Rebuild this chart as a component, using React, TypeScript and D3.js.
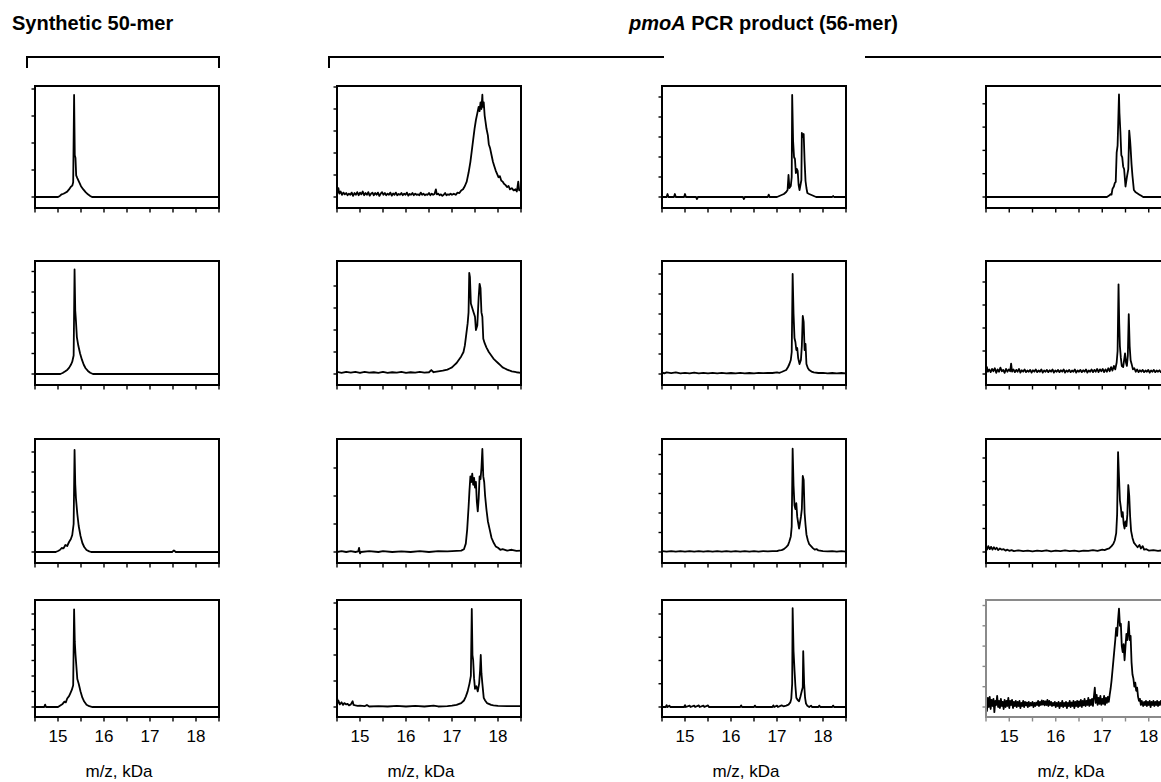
import React from 'react';
import * as d3 from 'd3';

type Pt = number[];

// ---------- axis data ----------
const MZ_DOMAIN = [14.5, 18.5];
const MZ_TICKS = [14.5, 15, 15.5, 16, 16.5, 17, 17.5, 18, 18.5];
const MZ_LABELS = [15, 16, 17, 18];
const X_TITLE = 'm/z, kDa';
const TITLE_LEFT = 'Synthetic 50-mer';
const TITLE_RIGHT_ITALIC = 'pmoA';
const TITLE_RIGHT_REST = ' PCR product (56-mer)';

// ---------- spectra: [m/z (kDa), intensity (tick units)] ----------
const SYN_1: Pt[] = [[14.5,0],[15.0,0],[15.04,0.04],[15.08,0.1],[15.12,0.12],[15.16,0.16],[15.2,0.2],[15.24,0.28],[15.28,0.38],[15.31,0.42],[15.33,0.55],[15.35,3.78],[15.365,1.55],[15.38,1.45],[15.395,0.8],[15.42,0.7],[15.46,0.55],[15.5,0.4],[15.55,0.28],[15.6,0.18],[15.65,0.1],[15.7,0.04],[15.74,0],[18.5,0]];
const SYN_2: Pt[] = [[14.5,0],[15.05,0],[15.1,0.05],[15.15,0.12],[15.2,0.2],[15.24,0.3],[15.28,0.45],[15.31,0.6],[15.34,0.9],[15.36,5.1],[15.375,3.1],[15.39,2.6],[15.41,1.8],[15.44,1.4],[15.48,1.0],[15.52,0.7],[15.56,0.45],[15.6,0.28],[15.65,0.15],[15.7,0.06],[15.76,0],[18.5,0]];
const SYN_3: Pt[] = [[14.5,0],[14.95,0],[15.0,0.05],[15.04,0.1],[15.08,0.2],[15.12,0.18],[15.16,0.35],[15.2,0.3],[15.24,0.5],[15.28,0.65],[15.31,0.85],[15.34,1.4],[15.36,5.1],[15.375,3.4],[15.39,2.7],[15.42,1.9],[15.45,1.3],[15.49,0.8],[15.53,0.45],[15.57,0.25],[15.62,0.1],[15.68,0.03],[15.72,0],[17.48,0],[17.52,0.08],[17.56,0],[18.5,0]];
const SYN_4: Pt[] = [[14.5,0],[14.7,0],[14.72,0.15],[14.74,0],[15.0,0],[15.05,0.1],[15.1,0.2],[15.14,0.35],[15.17,0.3],[15.2,0.55],[15.24,0.7],[15.27,0.9],[15.3,1.1],[15.33,1.4],[15.35,6.3],[15.365,4.2],[15.38,3.4],[15.4,2.6],[15.42,1.8],[15.45,1.5],[15.49,1.0],[15.53,0.6],[15.57,0.35],[15.62,0.15],[15.68,0.05],[15.75,0],[18.5,0]];

const PCR_A1: Pt[] = [[14.5,0.5],[14.51,0.2],[14.53,0.4],[14.55,0.15],[14.58,0.25],[14.61,0.1],[14.64,0.2],[14.67,0.12],[14.7,0.18],[14.73,0.08],[14.76,0.15],[14.79,0.1],[14.82,0.2],[14.85,0.05],[14.88,0.18],[14.91,0.1],[14.94,0.22],[14.97,0.08],[15.0,0.2],[15.03,0.12],[15.06,0.25],[15.09,0.08],[15.12,0.18],[15.15,0.1],[15.18,0.22],[15.21,0.06],[15.24,0.15],[15.27,0.2],[15.3,0.08],[15.33,0.18],[15.36,0.1],[15.39,0.2],[15.42,0.05],[15.45,0.15],[15.48,0.22],[15.51,0.1],[15.54,0.18],[15.57,0.08],[15.6,0.15],[15.63,0.1],[15.66,0.2],[15.69,0.06],[15.72,0.16],[15.75,0.1],[15.78,0.2],[15.81,0.08],[15.84,0.14],[15.87,0.1],[15.9,0.18],[15.93,0.08],[15.96,0.15],[15.99,0.1],[16.02,0.2],[16.05,0.06],[16.08,0.14],[16.11,0.1],[16.14,0.18],[16.17,0.08],[16.2,0.15],[16.23,0.1],[16.26,0.12],[16.29,0.08],[16.32,0.2],[16.35,0.1],[16.38,0.15],[16.41,0.08],[16.44,0.12],[16.47,0.1],[16.5,0.18],[16.53,0.08],[16.56,0.15],[16.59,0.1],[16.62,0.14],[16.65,0.35],[16.67,0.12],[16.7,0.15],[16.73,0.08],[16.76,0.12],[16.79,0.05],[16.82,0.1],[16.85,0.18],[16.88,0.08],[16.91,0.12],[16.94,0.1],[16.97,0.15],[17.0,0.1],[17.04,0.15],[17.08,0.1],[17.12,0.2],[17.16,0.18],[17.2,0.3],[17.24,0.35],[17.28,0.5],[17.32,0.7],[17.36,1.1],[17.4,1.6],[17.43,2.1],[17.46,2.6],[17.49,3.1],[17.52,3.5],[17.55,3.8],[17.58,4.1],[17.6,3.9],[17.62,4.3],[17.64,4.0],[17.66,4.65],[17.67,4.1],[17.69,4.3],[17.71,3.7],[17.73,3.4],[17.75,3.1],[17.78,2.8],[17.8,2.4],[17.83,2.2],[17.86,1.9],[17.89,1.6],[17.92,1.4],[17.95,1.2],[17.98,1.05],[18.01,0.9],[18.04,0.95],[18.07,0.75],[18.1,0.7],[18.13,0.6],[18.16,0.55],[18.2,0.45],[18.23,0.5],[18.26,0.35],[18.3,0.4],[18.34,0.3],[18.38,0.35],[18.41,0.25],[18.44,0.7],[18.46,0.3],[18.5,0.35]];
const PCR_A2: Pt[] = [[14.5,0.1],[14.6,0.05],[14.7,0.1],[14.8,0.06],[14.9,0.1],[15.0,0.05],[15.1,0.1],[15.2,0.06],[15.3,0.08],[15.4,0.05],[15.5,0.1],[15.6,0.05],[15.7,0.08],[15.8,0.06],[15.9,0.1],[16.0,0.05],[16.1,0.08],[16.2,0.06],[16.3,0.1],[16.4,0.06],[16.5,0.08],[16.55,0.18],[16.6,0.08],[16.7,0.12],[16.8,0.15],[16.9,0.2],[16.95,0.25],[17.0,0.3],[17.05,0.4],[17.1,0.5],[17.15,0.65],[17.2,0.8],[17.25,1.0],[17.28,1.3],[17.31,1.8],[17.34,2.3],[17.36,2.8],[17.375,4.6],[17.39,4.4],[17.41,3.2],[17.44,3.0],[17.47,2.8],[17.5,2.6],[17.52,2.0],[17.55,2.2],[17.58,3.5],[17.6,4.1],[17.62,3.9],[17.64,2.8],[17.66,2.6],[17.68,1.6],[17.71,1.4],[17.75,1.2],[17.8,1.0],[17.85,0.85],[17.9,0.7],[17.95,0.6],[18.0,0.5],[18.05,0.4],[18.1,0.3],[18.15,0.25],[18.2,0.2],[18.3,0.12],[18.4,0.08],[18.5,0.05]];
const PCR_A3: Pt[] = [[14.5,0],[14.6,0.03],[14.7,0],[14.8,0.03],[14.9,0],[14.96,0.02],[14.98,0.15],[15.0,-0.05],[15.02,0],[15.2,0.03],[15.4,0],[15.5,0.03],[15.7,0],[15.9,0.02],[16.1,0],[16.3,0.03],[16.5,0],[16.7,0.03],[16.9,0.02],[17.1,0.04],[17.2,0.05],[17.26,0.1],[17.3,0.3],[17.33,0.8],[17.36,1.6],[17.38,2.2],[17.4,2.7],[17.42,2.5],[17.44,2.8],[17.46,2.4],[17.48,2.65],[17.5,2.3],[17.52,2.5],[17.54,1.8],[17.56,1.45],[17.58,1.9],[17.6,2.7],[17.62,2.6],[17.64,3.0],[17.66,3.68],[17.68,2.7],[17.7,2.5],[17.72,2.0],[17.75,1.5],[17.78,1.1],[17.82,0.8],[17.86,0.5],[17.9,0.35],[17.95,0.2],[18.0,0.15],[18.05,0.08],[18.1,0.1],[18.2,0.05],[18.3,0.08],[18.4,0.04],[18.5,0.05]];
const PCR_A4: Pt[] = [[14.5,0.45],[14.51,0.15],[14.53,0.25],[14.56,0.1],[14.6,0.18],[14.63,0.08],[14.66,0.15],[14.7,0.1],[14.73,0.12],[14.76,0.06],[14.8,0.1],[14.84,0.22],[14.86,0.08],[14.9,0.06],[14.95,0.04],[15.0,0.05],[15.1,0.03],[15.15,0.08],[15.2,0.02],[15.4,0.03],[15.6,0.02],[15.8,0.04],[16.0,0.02],[16.2,0.04],[16.4,0.02],[16.6,0.05],[16.7,0.02],[16.9,0.03],[17.0,0.05],[17.1,0.08],[17.2,0.15],[17.26,0.25],[17.3,0.4],[17.34,0.6],[17.38,0.9],[17.41,1.2],[17.43,3.77],[17.445,2.0],[17.46,1.8],[17.48,1.1],[17.5,0.7],[17.53,0.8],[17.56,0.6],[17.59,0.9],[17.61,1.4],[17.625,2.0],[17.64,1.3],[17.66,0.9],[17.69,0.35],[17.72,0.25],[17.76,0.15],[17.8,0.12],[17.85,0.08],[17.9,0.06],[18.0,0.04],[18.2,0.03],[18.5,0.03]];

const PCR_B1: Pt[] = [[14.5,0],[14.6,0],[14.62,0.15],[14.64,0],[14.76,0],[14.78,0.15],[14.8,0],[14.98,0],[15.0,0.15],[15.02,0],[15.24,0],[15.26,-0.1],[15.28,0],[16.26,0],[16.28,-0.1],[16.3,0],[16.8,0],[16.82,0.12],[16.84,0],[17.0,0],[17.05,0.05],[17.1,0.1],[17.15,0.15],[17.2,0.25],[17.23,0.35],[17.25,1.1],[17.27,0.45],[17.3,0.55],[17.32,1.0],[17.33,5.1],[17.35,2.8],[17.37,2.0],[17.39,1.9],[17.41,1.2],[17.43,1.4],[17.45,1.3],[17.47,0.6],[17.49,0.35],[17.51,0.6],[17.53,0.85],[17.54,3.2],[17.56,3.0],[17.58,3.15],[17.6,1.8],[17.62,0.8],[17.64,0.45],[17.66,0.2],[17.7,0.15],[17.75,0.1],[17.8,0.05],[17.85,0],[18.2,0],[18.22,0.05],[18.24,0],[18.5,0]];
const PCR_B2: Pt[] = [[14.5,0.08],[14.55,0.03],[14.6,0.08],[14.7,0.04],[14.8,0.08],[14.9,0.03],[15.0,0.06],[15.1,0.03],[15.2,0.07],[15.3,0.03],[15.4,0.06],[15.5,0.03],[15.6,0.06],[15.7,0.03],[15.8,0.06],[15.9,0.03],[16.0,0.05],[16.1,0.03],[16.2,0.06],[16.3,0.03],[16.4,0.05],[16.5,0.03],[16.6,0.06],[16.7,0.04],[16.8,0.06],[16.9,0.05],[17.0,0.08],[17.05,0.06],[17.1,0.1],[17.15,0.15],[17.2,0.2],[17.24,0.35],[17.27,0.5],[17.3,0.7],[17.32,1.1],[17.34,5.0],[17.36,3.0],[17.38,1.8],[17.4,1.6],[17.42,1.2],[17.44,1.3],[17.46,0.8],[17.49,0.5],[17.52,0.7],[17.54,1.4],[17.56,2.9],[17.58,2.6],[17.6,1.2],[17.62,1.5],[17.64,0.5],[17.67,0.3],[17.7,0.2],[17.75,0.12],[17.8,0.08],[17.9,0.05],[18.0,0.06],[18.1,0.03],[18.2,0.05],[18.3,0.03],[18.4,0.05],[18.5,0.03]];
const PCR_B3: Pt[] = [[14.5,0.05],[14.6,0.02],[14.7,0.05],[14.8,0.02],[14.9,0.04],[15.0,0.02],[15.1,0.05],[15.2,0.02],[15.3,0.04],[15.4,0.02],[15.5,0.05],[15.6,0.02],[15.7,0.04],[15.8,0.02],[15.9,0.05],[16.0,0.02],[16.1,0.04],[16.2,0.02],[16.3,0.05],[16.4,0.02],[16.5,0.04],[16.6,0.02],[16.7,0.05],[16.8,0.03],[16.9,0.05],[17.0,0.04],[17.05,0.08],[17.1,0.1],[17.15,0.15],[17.2,0.25],[17.24,0.35],[17.27,0.55],[17.3,0.8],[17.32,1.3],[17.34,5.3],[17.36,3.4],[17.38,2.4],[17.4,2.2],[17.42,2.5],[17.44,1.8],[17.46,1.5],[17.48,1.2],[17.5,1.5],[17.52,1.8],[17.54,2.2],[17.56,3.9],[17.58,3.7],[17.6,2.0],[17.62,1.4],[17.64,0.9],[17.67,0.6],[17.7,0.4],[17.74,0.3],[17.78,0.2],[17.82,0.12],[17.86,0.15],[17.9,0.08],[18.0,0.05],[18.1,0.03],[18.2,0.05],[18.3,0.02],[18.4,0.04],[18.5,0.02]];
const PCR_B4: Pt[] = [[14.5,0],[14.58,0],[14.6,0.08],[14.62,0],[14.66,0.06],[14.68,0],[14.98,0],[15.0,0.08],[15.02,0],[15.1,0.06],[15.12,0],[15.2,0.06],[15.22,0],[15.3,0.07],[15.32,0],[15.4,0.06],[15.42,0],[15.5,0.07],[15.52,0],[16.2,0],[16.22,0.07],[16.24,0],[16.5,0],[16.52,0.06],[16.54,0],[16.9,0],[16.92,0.07],[16.94,0],[17.0,0.06],[17.02,0],[17.1,0.07],[17.14,0.03],[17.2,0.06],[17.25,0.1],[17.29,0.2],[17.31,0.35],[17.33,1.0],[17.34,4.25],[17.36,2.4],[17.38,1.6],[17.4,0.9],[17.42,0.4],[17.45,0.3],[17.48,0.25],[17.51,0.45],[17.54,0.7],[17.56,0.85],[17.57,2.4],[17.59,1.0],[17.61,0.4],[17.63,0.15],[17.66,0.05],[17.7,0],[17.74,0.06],[17.76,0],[17.9,0],[17.92,0.06],[17.94,0],[18.2,0],[18.22,0.06],[18.24,0],[18.5,0]];

const PCR_C1: Pt[] = [[14.5,0],[17.1,0],[17.14,0.05],[17.18,0.12],[17.2,0.1],[17.22,0.35],[17.25,0.45],[17.27,0.6],[17.29,0.65],[17.31,1.9],[17.33,2.2],[17.36,4.4],[17.37,3.6],[17.39,2.8],[17.41,1.8],[17.43,1.7],[17.45,1.3],[17.47,1.2],[17.5,0.45],[17.53,0.85],[17.56,1.2],[17.58,2.85],[17.6,2.4],[17.61,2.1],[17.63,1.4],[17.65,0.9],[17.68,0.3],[17.72,0.2],[17.76,0.15],[17.8,0.1],[17.84,0.05],[17.88,0],[18.5,0]];
const PCR_C2: Pt[] = [[14.5,0.15],[14.52,0.3],[14.54,0.1],[14.57,0.2],[14.6,0.08],[14.63,0.22],[14.66,0.12],[14.69,0.25],[14.72,0.05],[14.75,0.2],[14.78,0.1],[14.81,0.28],[14.84,0.12],[14.87,0.18],[14.9,0.05],[14.93,0.22],[14.96,0.1],[14.99,0.2],[15.02,0.12],[15.04,0.45],[15.06,0.1],[15.09,0.2],[15.12,0.08],[15.15,0.18],[15.18,0.1],[15.21,0.22],[15.24,0.06],[15.27,0.16],[15.3,0.1],[15.33,0.2],[15.36,0.08],[15.39,0.15],[15.42,0.1],[15.45,0.18],[15.48,0.06],[15.51,0.16],[15.54,0.1],[15.57,0.2],[15.6,0.08],[15.63,0.15],[15.66,0.1],[15.69,0.2],[15.72,0.06],[15.75,0.15],[15.78,0.1],[15.81,0.18],[15.84,0.08],[15.87,0.16],[15.9,0.1],[15.93,0.2],[15.96,0.06],[15.99,0.15],[16.02,0.1],[16.05,0.18],[16.08,0.08],[16.11,0.16],[16.14,0.1],[16.17,0.2],[16.2,0.06],[16.23,0.15],[16.26,0.1],[16.29,0.18],[16.32,0.08],[16.35,0.15],[16.38,0.1],[16.41,0.2],[16.44,0.06],[16.47,0.15],[16.5,0.1],[16.53,0.18],[16.56,0.08],[16.59,0.16],[16.62,0.1],[16.65,0.2],[16.68,0.06],[16.71,0.15],[16.74,0.1],[16.77,0.2],[16.8,0.08],[16.83,0.18],[16.86,0.1],[16.89,0.22],[16.92,0.08],[16.95,0.2],[16.98,0.12],[17.01,0.22],[17.04,0.08],[17.07,0.2],[17.1,0.1],[17.13,0.25],[17.16,0.12],[17.19,0.3],[17.22,0.15],[17.25,0.35],[17.28,0.2],[17.31,0.5],[17.33,1.0],[17.35,3.9],[17.365,2.2],[17.38,1.2],[17.4,0.7],[17.42,0.35],[17.45,0.3],[17.47,0.6],[17.49,0.9],[17.51,0.5],[17.53,0.35],[17.55,0.8],[17.57,2.6],[17.59,1.2],[17.61,0.6],[17.63,0.45],[17.66,0.2],[17.69,0.25],[17.72,0.1],[17.75,0.2],[17.78,0.08],[17.81,0.16],[17.84,0.1],[17.87,0.18],[17.9,0.08],[17.93,0.15],[17.96,0.1],[17.99,0.18],[18.02,0.06],[18.05,0.15],[18.08,0.1],[18.11,0.18],[18.14,0.08],[18.17,0.15],[18.2,0.1],[18.23,0.16],[18.26,0.08],[18.3,0.15],[18.4,0.1],[18.5,0.12]];
const PCR_C3: Pt[] = [[14.5,0.2],[14.52,0.1],[14.55,0.25],[14.58,0.12],[14.61,0.22],[14.64,0.1],[14.67,0.2],[14.7,0.12],[14.73,0.18],[14.76,0.08],[14.8,0.15],[14.84,0.1],[14.88,0.12],[14.92,0.06],[14.96,0.1],[15.0,0.05],[15.05,0.08],[15.1,0.04],[15.2,0.07],[15.3,0.04],[15.4,0.06],[15.5,0.03],[15.6,0.06],[15.7,0.04],[15.8,0.07],[15.9,0.03],[16.0,0.06],[16.1,0.04],[16.2,0.07],[16.3,0.04],[16.4,0.06],[16.5,0.03],[16.6,0.06],[16.7,0.05],[16.8,0.08],[16.9,0.05],[17.0,0.1],[17.05,0.08],[17.1,0.12],[17.15,0.15],[17.2,0.25],[17.24,0.35],[17.27,0.5],[17.3,0.8],[17.32,1.6],[17.34,4.25],[17.36,3.2],[17.38,2.2],[17.4,1.9],[17.42,1.5],[17.44,1.7],[17.46,1.2],[17.48,1.0],[17.5,1.3],[17.52,1.1],[17.54,1.6],[17.56,2.85],[17.58,2.4],[17.6,1.5],[17.62,0.9],[17.65,0.6],[17.68,0.4],[17.72,0.3],[17.76,0.2],[17.8,0.3],[17.83,0.15],[17.87,0.25],[17.9,0.1],[17.95,0.12],[18.0,0.06],[18.1,0.08],[18.2,0.05],[18.3,0.07],[18.4,0.04],[18.5,0.05]];
const PCR_C4: Pt[] = [[14.5,0.1],[14.52,-0.2],[14.54,0.45],[14.56,0.0],[14.58,0.5],[14.6,-0.1],[14.62,0.35],[14.64,0.05],[14.66,0.4],[14.68,-0.25],[14.7,0.3],[14.72,0.1],[14.74,0.55],[14.76,0.0],[14.78,0.3],[14.8,-0.05],[14.82,0.4],[14.84,0.05],[14.86,0.25],[14.88,-0.1],[14.9,0.35],[14.92,0.0],[14.94,0.3],[14.96,0.05],[14.98,0.45],[15.0,-0.05],[15.02,0.3],[15.04,0.1],[15.06,0.35],[15.08,-0.05],[15.1,0.25],[15.12,0.05],[15.14,0.3],[15.16,0.0],[15.18,0.25],[15.2,0.05],[15.22,0.3],[15.24,-0.05],[15.26,0.2],[15.28,0.05],[15.3,0.3],[15.32,0.0],[15.34,0.25],[15.36,0.08],[15.38,0.22],[15.4,0.0],[15.42,0.25],[15.44,0.05],[15.46,0.2],[15.48,0.08],[15.5,0.25],[15.52,0.0],[15.54,0.2],[15.56,0.05],[15.58,0.22],[15.6,0.1],[15.62,0.3],[15.64,0.05],[15.66,0.25],[15.68,0.1],[15.7,0.32],[15.72,0.12],[15.74,0.3],[15.76,0.08],[15.78,0.28],[15.8,0.1],[15.82,0.35],[15.84,0.05],[15.86,0.3],[15.88,0.1],[15.9,0.25],[15.92,0.05],[15.94,0.2],[15.96,0.08],[15.98,0.25],[16.0,0.0],[16.02,0.2],[16.04,0.05],[16.06,0.25],[16.08,-0.05],[16.1,0.2],[16.12,0.05],[16.14,0.3],[16.16,0.0],[16.18,0.2],[16.2,0.05],[16.22,0.25],[16.24,-0.05],[16.26,0.2],[16.28,0.05],[16.3,0.3],[16.32,0.0],[16.34,0.22],[16.36,0.05],[16.38,0.3],[16.4,-0.05],[16.42,0.25],[16.44,0.05],[16.46,0.3],[16.48,0.0],[16.5,0.28],[16.52,0.05],[16.54,0.35],[16.56,0.0],[16.58,0.3],[16.6,0.08],[16.62,0.4],[16.64,0.05],[16.66,0.3],[16.68,0.1],[16.7,0.45],[16.72,0.05],[16.74,0.35],[16.76,0.1],[16.78,0.4],[16.8,0.05],[16.82,0.5],[16.84,0.95],[16.86,0.2],[16.88,0.6],[16.9,0.1],[16.92,0.45],[16.94,0.15],[16.96,0.55],[16.98,0.1],[17.0,0.4],[17.02,0.15],[17.04,0.55],[17.06,0.1],[17.08,0.45],[17.1,0.2],[17.12,0.5],[17.14,0.25],[17.16,0.6],[17.18,0.9],[17.2,1.3],[17.22,1.8],[17.24,2.3],[17.26,2.8],[17.28,3.3],[17.3,3.9],[17.32,3.5],[17.34,4.3],[17.36,4.85],[17.38,4.0],[17.4,4.1],[17.42,3.0],[17.44,2.7],[17.46,3.1],[17.48,2.3],[17.5,3.0],[17.52,3.6],[17.54,3.3],[17.56,3.9],[17.57,4.2],[17.59,3.3],[17.61,3.5],[17.63,2.2],[17.65,1.6],[17.67,1.4],[17.69,1.0],[17.71,1.2],[17.73,0.8],[17.75,0.95],[17.77,0.5],[17.79,0.3],[17.81,0.4],[17.83,0.1],[17.85,0.3],[17.88,0.05],[17.9,0.25],[17.92,0.1],[17.94,0.3],[17.96,0.05],[17.98,0.25],[18.0,0.1],[18.02,0.3],[18.04,0.0],[18.06,0.25],[18.08,0.1],[18.1,0.3],[18.12,0.05],[18.14,0.25],[18.16,0.1],[18.18,0.3],[18.2,0.05],[18.22,0.25],[18.24,0.1],[18.26,0.3],[18.3,0.1]];

// rows x columns of series
const SERIES: Pt[][][] = [
  [SYN_1, PCR_A1, PCR_B1, PCR_C1],
  [SYN_2, PCR_A2, PCR_B2, PCR_C2],
  [SYN_3, PCR_A3, PCR_B3, PCR_C3],
  [SYN_4, PCR_A4, PCR_B4, PCR_C4],
];
// number of y ticks above zero for each panel
const Y_TICK_COUNT = [
  [4, 5, 5, 4],
  [5, 4, 5, 4],
  [5, 3, 5, 4],
  [6, 4, 4, 5],
];

// ---------- layout ----------
const W = 1161;
const H = 782;
const COL_X = [35, 337, 662, 986];
const COL_W = [184, 184, 184, 186];
const ROW_TOP = [86, 261, 439, 600];
const ROW_BOTTOM = [208, 385, 563, 717];
const ROW_GAP = [11, 11, 11, 10];
const TICK_PX = [
  [27, 22, 20, 23.3],
  [20.5, 22, 20, 23],
  [20, 28, 19.5, 23.5],
  [15.5, 26, 23.25, 20.3],
];
const FONT = 'Liberation Sans, Arial, Helvetica, sans-serif';

function Panel({ r, c }: { r: number; c: number }) {
  const x0 = COL_X[c];
  const w = COL_W[c];
  const top = ROW_TOP[r];
  const bottom = ROW_BOTTOM[r];
  const base = bottom - ROW_GAP[r];
  const x = d3.scaleLinear().domain(MZ_DOMAIN).range([x0, x0 + w]);
  const y = d3.scaleLinear().domain([0, 1]).range([base, base - TICK_PX[r][c]]);
  const line = d3
    .line<Pt>()
    .x((d) => x(d[0]))
    .y((d) => y(d[1]));
  const frameColor = r === 3 && c === 3 ? '#8a8a8a' : '#000';
  const id = `clip-${r}-${c}`;
  const yTicks = d3.range(0, Y_TICK_COUNT[r][c] + 1);
  return (
    <g>
      <defs>
        <clipPath id={id}>
          <rect x={x0} y={top} width={w} height={bottom - top} />
        </clipPath>
      </defs>
      <path d={line(SERIES[r][c]) || ''} fill="none" stroke="#000" strokeWidth={1.8} strokeLinejoin="round" clipPath={`url(#${id})`} />
      <rect x={x0} y={top} width={w} height={bottom - top} fill="none" stroke={frameColor} strokeWidth={2} />
      {yTicks.map((t) => (
        <line key={'y' + t} x1={x0 - 3.5} x2={x0} y1={y(t)} y2={y(t)} stroke={frameColor} strokeWidth={1.4} />
      ))}
      {MZ_TICKS.map((t) => (
        <line key={'x' + t} x1={x(t)} x2={x(t)} y1={bottom} y2={bottom + 4.5} stroke={frameColor} strokeWidth={1.4} />
      ))}
      {r === 3 &&
        MZ_LABELS.map((t) => (
          <text key={'l' + t} x={x(t)} y={bottom + 25} fontSize={17} textAnchor="middle" fill="#000">
            {t}
          </text>
        ))}
      {r === 3 && (
        <text x={x0 + w / 2 - 8} y={777} fontSize={17} textAnchor="middle" fill="#000">
          {X_TITLE}
        </text>
      )}
    </g>
  );
}

export default function App() {
  return (
    <svg width={W} height={H} style={{ position: 'absolute', left: 0, top: 0 }} fontFamily={FONT}>
      <rect width={W} height={H} fill="#fff" />
      <text x={12} y={30} fontSize={20} fontWeight="bold" fill="#000">
        {TITLE_LEFT}
      </text>
      <text x={629} y={30} fontSize={20} fontWeight="bold" fill="#000">
        <tspan fontStyle="italic">{TITLE_RIGHT_ITALIC}</tspan>
        {TITLE_RIGHT_REST}
      </text>
      <path d="M27,68 V57 H219 V68" fill="none" stroke="#000" strokeWidth={2} />
      <path d="M329,68 V57 H664" fill="none" stroke="#000" strokeWidth={2} />
      <path d="M865,57 H1175 V68" fill="none" stroke="#000" strokeWidth={2} />
      {[0, 1, 2, 3].map((r) => [0, 1, 2, 3].map((c) => <Panel key={`${r}-${c}`} r={r} c={c} />))}
    </svg>
  );
}
